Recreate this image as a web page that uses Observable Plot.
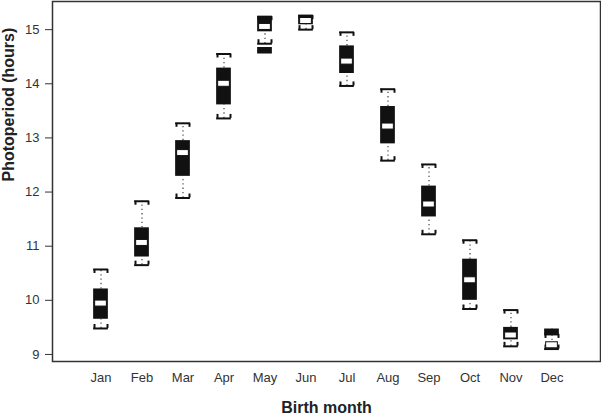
<!DOCTYPE html>
<html><head><meta charset="utf-8">
<script src="https://cdn.jsdelivr.net/npm/d3@7"></script>
<script src="https://cdn.jsdelivr.net/npm/@observablehq/plot@0.6"></script>
<style>body{margin:0;background:#fff}</style>
</head><body><div id="chart"></div>
<script>
const months = ["Jan","Feb","Mar","Apr","May","Jun","Jul","Aug","Sep","Oct","Nov","Dec"];
const lo  = [9.48, 10.65, 11.89, 13.36, 14.74, 15.00, 13.96, 12.58, 11.22, 9.84, 9.15, 9.10];
const q1  = [9.65, 10.80, 12.29, 13.61, 14.96, 15.09, 14.19, 12.89, 11.54, 10.00, 9.27, 9.36];
const med = [9.94, 11.06, 12.72, 14.00, 15.05, 15.16, 14.41, 13.21, 11.77, 10.37, 9.35, 9.17];
const q3  = [10.21, 11.34, 12.95, 14.29, 15.24, 15.26, 14.70, 13.58, 12.11, 10.76, 9.50, 9.47];
const hi  = [10.57, 11.83, 13.27, 14.55, 15.24, 15.26, 14.95, 13.90, 12.51, 11.11, 9.82, 9.37];
const extraMonth = ["May"];
const extraLo = [14.55];
const extraHi = [14.67];
const yTicks = [9, 10, 11, 12, 13, 14, 15];

const data = months.map((m, i) => ({month: m, lo: lo[i], q1: q1[i], med: med[i], q3: q3[i], hi: hi[i]}));
const extra = extraMonth.map((m, i) => ({month: m, lo: extraLo[i], hi: extraHi[i]}));

const xRange = [78.35, 573.65];
const bw = (xRange[1] - xRange[0]) / months.length;
const boxW = 15, capH = 4;
const ins = (bw - boxW) / 2;
const medIns = (bw - 12) / 2;
const whisk = {stroke: "#555", strokeWidth: 1.3, strokeDasharray: "1.3,3"};
const capStyle = {stroke: "#111", strokeWidth: 2};

const chart = Plot.plot({
  width: 601, height: 419,
  marginLeft: 52, marginRight: 1, marginTop: 1, marginBottom: 58,
  style: {fontFamily: "'Liberation Sans', Arial, sans-serif", fontSize: "13px", color: "#333", background: "#fff"},
  x: {type: "band", domain: months, range: xRange, padding: 0, tickSize: 0, tickPadding: 11, label: null},
  y: {domain: [8.87, 15.52], ticks: yTicks, tickFormat: d3.format("d"), tickSize: 7, tickPadding: 6, label: null},
  marks: [
    Plot.ruleX(data, {x: "month", y1: "q3", y2: "hi", ...whisk}),
    Plot.ruleX(data, {x: "month", y1: "lo", y2: "q1", ...whisk}),
    Plot.tickY(data, {x: "month", y: "hi", ...capStyle, insetLeft: ins, insetRight: ins}),
    Plot.ruleX(data, {x: "month", y1: "hi", y2: "hi", dx: -(boxW / 2 - 1), insetBottom: -capH, ...capStyle}),
    Plot.ruleX(data, {x: "month", y1: "hi", y2: "hi", dx: (boxW / 2 - 1), insetBottom: -capH, ...capStyle}),
    Plot.tickY(data, {x: "month", y: "lo", ...capStyle, insetLeft: ins, insetRight: ins}),
    Plot.ruleX(data, {x: "month", y1: "lo", y2: "lo", dx: -(boxW / 2 - 1), insetTop: -capH, ...capStyle}),
    Plot.ruleX(data, {x: "month", y1: "lo", y2: "lo", dx: (boxW / 2 - 1), insetTop: -capH, ...capStyle}),
    Plot.barY(data, {x: "month", y1: "q1", y2: "q3", fill: "#111", insetLeft: ins, insetRight: ins}),
    Plot.barY(extra, {x: "month", y1: "lo", y2: "hi", fill: "#111", insetLeft: ins, insetRight: ins}),
    Plot.barY(data, {x: "month", y1: "med", y2: "med", insetTop: -3, insetBottom: -3, insetLeft: medIns, insetRight: medIns, fill: "#fff", stroke: "#111", strokeWidth: 1}),
    Plot.frame({stroke: "#333", strokeWidth: 1.5}),
    Plot.text(["Photoperiod (hours)"], {text: d => d, frameAnchor: "left", dx: -44, rotate: -90, fontSize: 16, fontWeight: "bold", fill: "#222"}),
    Plot.text(["Birth month"], {text: d => d, frameAnchor: "bottom", dy: 51, fontSize: 16, fontWeight: "bold", fill: "#222"})
  ]
});
document.getElementById("chart").appendChild(chart);
</script>
</body></html>
